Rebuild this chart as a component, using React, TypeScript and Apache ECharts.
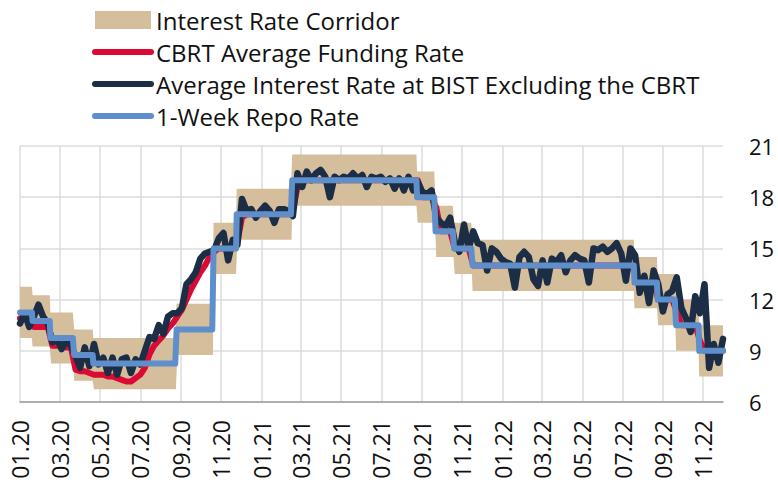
import React, { useEffect, useRef } from "react";
import * as echarts from "echarts";

// ---- data ----
const startDate = "2020-01-31";
const endDate = "2022-12-30";

// 1-week repo rate decisions (date in effect, rate)
const policyDates = [
  "2020-01-31", "2020-02-19", "2020-03-17", "2020-04-22", "2020-05-21",
  "2020-09-24", "2020-11-19", "2020-12-24", "2021-03-18", "2021-09-23",
  "2021-10-21", "2021-11-18", "2021-12-16", "2022-08-18", "2022-09-22",
  "2022-10-20", "2022-11-24",
];
const policyRates = [11.25, 10.75, 9.75, 8.75, 8.25, 10.25, 15, 17, 19, 18, 16, 15, 14, 13, 12, 10.5, 9];
const corridorLow = [9.75, 9.25, 8.25, 7.25, 6.75, 8.75, 13.5, 15.5, 17.5, 16.5, 14.5, 13.5, 12.5, 11.5, 10.5, 9, 7.5];
const corridorHigh = [12.75, 12.25, 11.25, 10.25, 9.75, 11.75, 16.5, 18.5, 20.5, 19.5, 17.5, 16.5, 15.5, 14.5, 13.5, 12, 10.5];

// weekly observations, starting at weeklyStart, one every 7 days
const weeklyStart = "2020-01-31";
const fundingRate = [
  10.9, 10.9, 10.9, 10.4, 10.4, 10.4, 10.4, 9.3, 9.3, 9.3,
  9.2, 9.2, 7.9, 7.8, 7.8, 7.7, 7.6, 7.6, 7.6, 7.5,
  7.5, 7.4, 7.3, 7.2, 7.2, 7.4, 7.6, 8.0, 8.8, 9.3,
  9.6, 9.9, 10.3, 10.6, 11.0, 11.4, 12.0, 12.6, 13.1, 13.6,
  14.0, 14.5, 14.8, 15, 15, 15, 15, 15.4, 16.8, 17,
  17, 17, 17, 17, 17, 17, 17, 17, 17, 17.2,
  18.6, 19, 19, 19, 19, 19, 19, 19, 19, 19,
  19, 19, 19, 19, 19, 19, 19, 19, 19, 19,
  19, 19, 19, 19, 19, 19, 19.0, 18, 18, 18,
  17.4, 16, 16, 16, 15, 15, 15, 15, 14, 14,
  14, 14, 14, 14, 14, 14, 14, 14, 14, 14,
  14, 14, 14, 14, 14, 14, 14, 14, 14, 14,
  14, 14, 14, 14, 14, 14, 14, 14, 14, 14,
  14, 14, 14, 13.6, 13, 13, 13, 13, 12, 12,
  12, 12, 11.3, 10.5, 10.5, 10.5, 10.5, 9.6, 9, 9,
  9, 9, 9,
];
const bistRate = [
  10.6, 11.2, 10.4, 11.0, 11.7, 11.0, 10.6, 9.5, 9.7, 9.1,
  9.6, 9.3, 8.7, 8.0, 9.2, 8.1, 9.4, 8.2, 8.6, 7.7,
  8.6, 7.6, 8.5, 8.6, 7.7, 8.5, 8.2, 9.0, 9.8, 9.7,
  10.5, 10.0, 11.0, 11.2, 11.2, 11.5, 12.9, 13.2, 13.6, 14.4,
  14.7, 14.8, 14.9, 15.6, 15.9, 14.3, 15.5, 15.2, 17.9, 17.2,
  17.3, 16.8, 17.2, 17.5, 17.2, 16.5, 17.3, 17.3, 17.2, 16.9,
  19.4, 18.6, 19.5, 19.0, 19.4, 19.6, 19.2, 18.0, 19.2, 19.0,
  19.2, 19.1, 19.4, 19.1, 19.3, 18.6, 19.2, 19.1, 19.2, 18.9,
  19.1, 18.5, 19.1, 18.4, 19.2, 18.4, 18.9, 18.3, 18.2, 18.4,
  16.8, 16.5, 16.3, 16.8, 15.4, 14.8, 16.4, 15.0, 16.0, 15.3,
  15.2, 13.7, 15.0, 14.8, 14.4, 14.2, 14.1, 12.7, 14.5, 14.8,
  14.5, 13.2, 12.8, 14.3, 13.0, 14.4, 14.2, 14.6, 13.6, 14.3,
  14.6, 14.4, 14.3, 13.0, 15.0, 14.9, 15.1, 14.8, 15.0, 15.3,
  14.7, 13.1, 15.0, 14.6, 12.4, 13.4, 11.8, 13.7, 12.9, 11.3,
  12.3, 12.5, 13.3, 11.5, 10.9, 10.1, 12.2, 11.2, 12.9, 8.0,
  9.4, 8.3, 9.7,
];

const yMin = 6;
const yMax = 21;
const yInterval = 3;

const seriesNames = [
  "Interest Rate Corridor",
  "CBRT Average Funding Rate",
  "Average Interest Rate at BIST Excluding the CBRT",
  "1-Week Repo Rate",
];

const COLORS = {
  band: "#D5BE9B",
  red: "#DA0A34",
  navy: "#1B2E45",
  blue: "#5F8FCB",
  grid: "#DCDCDC",
  axis: "#9C9C9C",
  text: "#111111",
};

const DAY = 86400000;
function parseDate(s: string): number {
  const [y, m, d] = s.split("-").map(Number);
  return Date.UTC(y, m - 1, d);
}

export default function App() {
  const ref = useRef<HTMLDivElement>(null);

  useEffect(() => {
    if (!ref.current) return;
    const t0 = parseDate(startDate);
    const nDays = Math.round((parseDate(endDate) - t0) / DAY) + 1;
    const cats: string[] = [];
    for (let d = 0; d < nDays; d++) {
      cats.push(new Date(t0 + d * DAY).toISOString().slice(0, 10));
    }
    const stepIdx = policyDates.map((s) => Math.round((parseDate(s) - t0) / DAY));
    const policyDaily: number[] = [];
    const lowDaily: number[] = [];
    const widthDaily: number[] = [];
    let k = 0;
    for (let d = 0; d < nDays; d++) {
      while (k + 1 < stepIdx.length && stepIdx[k + 1] <= d) k++;
      policyDaily.push(policyRates[k]);
      lowDaily.push(corridorLow[k]);
      widthDaily.push(corridorHigh[k] - corridorLow[k]);
    }
    const w0 = Math.round((parseDate(weeklyStart) - t0) / DAY);
    const weekly = (vals: number[]) => {
      const arr: (number | null)[] = new Array(nDays).fill(null);
      vals.forEach((v, i) => {
        const d = w0 + 7 * i;
        if (d >= 0 && d < nDays) arr[d] = v;
      });
      return arr;
    };

    const isLabelDay = (index: number) => {
      const dt = new Date(t0 + index * DAY);
      const nx = new Date(t0 + (index + 1) * DAY);
      return nx.getUTCDate() === 1 && dt.getUTCMonth() % 2 === 0;
    };

    const font = "Open Sans";
    const chart = echarts.init(ref.current, undefined, { renderer: "svg" });
    const lineCommon = {
      type: "line" as const,
      symbol: "none",
      showSymbol: false,
      connectNulls: true,
      animation: false,
    };
    const hiddenSymbol = { color: "rgba(0,0,0,0)", borderWidth: 0, opacity: 0 };
    const legendLine = (color: string) => ({ color, width: 6, cap: "round" as const, opacity: 1 });
    chart.setOption({
      animation: false,
      grid: { left: 20, right: 55, top: 146, bottom: 84, containLabel: false },
      legend: {
        orient: "vertical",
        left: 92,
        top: 8,
        padding: 0,
        itemWidth: 56,
        itemHeight: 18,
        itemGap: 8,
        selectedMode: false,
        textStyle: { fontSize: 24, fontFamily: font, color: COLORS.text },
        data: [
          { name: seriesNames[0], icon: "rect", itemStyle: { color: COLORS.band } },
          { name: seriesNames[1], itemStyle: hiddenSymbol, lineStyle: legendLine(COLORS.red) },
          { name: seriesNames[2], itemStyle: hiddenSymbol, lineStyle: legendLine(COLORS.navy) },
          { name: seriesNames[3], itemStyle: hiddenSymbol, lineStyle: legendLine(COLORS.blue) },
        ],
      },
      xAxis: {
        type: "category",
        data: cats,
        boundaryGap: false,
        axisLine: { show: true, lineStyle: { color: COLORS.axis, width: 1.5 } },
        axisTick: { show: false },
        axisLabel: {
          interval: (index: number) => isLabelDay(index),
          rotate: 90,
          margin: 18,
          fontSize: 23,
          fontFamily: font,
          color: COLORS.text,
          formatter: (v: string) => `${v.slice(5, 7)}.${v.slice(2, 4)}`,
        },
        splitLine: {
          show: true,
          interval: (index: number) => isLabelDay(index),
          lineStyle: { color: COLORS.grid, width: 1.5 },
        },
      },
      yAxis: {
        type: "value",
        position: "right",
        min: yMin,
        max: yMax,
        interval: yInterval,
        axisLine: { show: false },
        axisTick: { show: false },
        axisLabel: { margin: 26, fontSize: 22, fontFamily: font, color: COLORS.text },
        splitLine: { show: true, lineStyle: { color: COLORS.grid, width: 1.5 } },
      },
      series: [
        {
          ...lineCommon,
          name: "corridorBase",
          data: lowDaily,
          stack: "band",
          lineStyle: { width: 0, opacity: 0 },
          silent: true,
        },
        {
          ...lineCommon,
          name: seriesNames[0],
          data: widthDaily,
          stack: "band",
          lineStyle: { width: 0, opacity: 0 },
          itemStyle: { color: COLORS.band },
          areaStyle: { color: COLORS.band, opacity: 1 },
        },
        {
          ...lineCommon,
          name: seriesNames[1],
          data: weekly(fundingRate),
          itemStyle: { color: COLORS.red },
          lineStyle: { color: COLORS.red, width: 6, cap: "round", join: "round" },
        },
        {
          ...lineCommon,
          name: seriesNames[2],
          data: weekly(bistRate),
          itemStyle: { color: COLORS.navy },
          lineStyle: { color: COLORS.navy, width: 6.5, cap: "round", join: "round" },
        },
        {
          ...lineCommon,
          name: seriesNames[3],
          data: policyDaily,
          itemStyle: { color: COLORS.blue },
          lineStyle: { color: COLORS.blue, width: 6, cap: "round", join: "round" },
        },
      ],
    });
    return () => chart.dispose();
  }, []);

  return (
    <div
      ref={ref}
      style={{ position: "fixed", left: 0, top: 0, width: 778, height: 486, background: "#fff" }}
    />
  );
}
